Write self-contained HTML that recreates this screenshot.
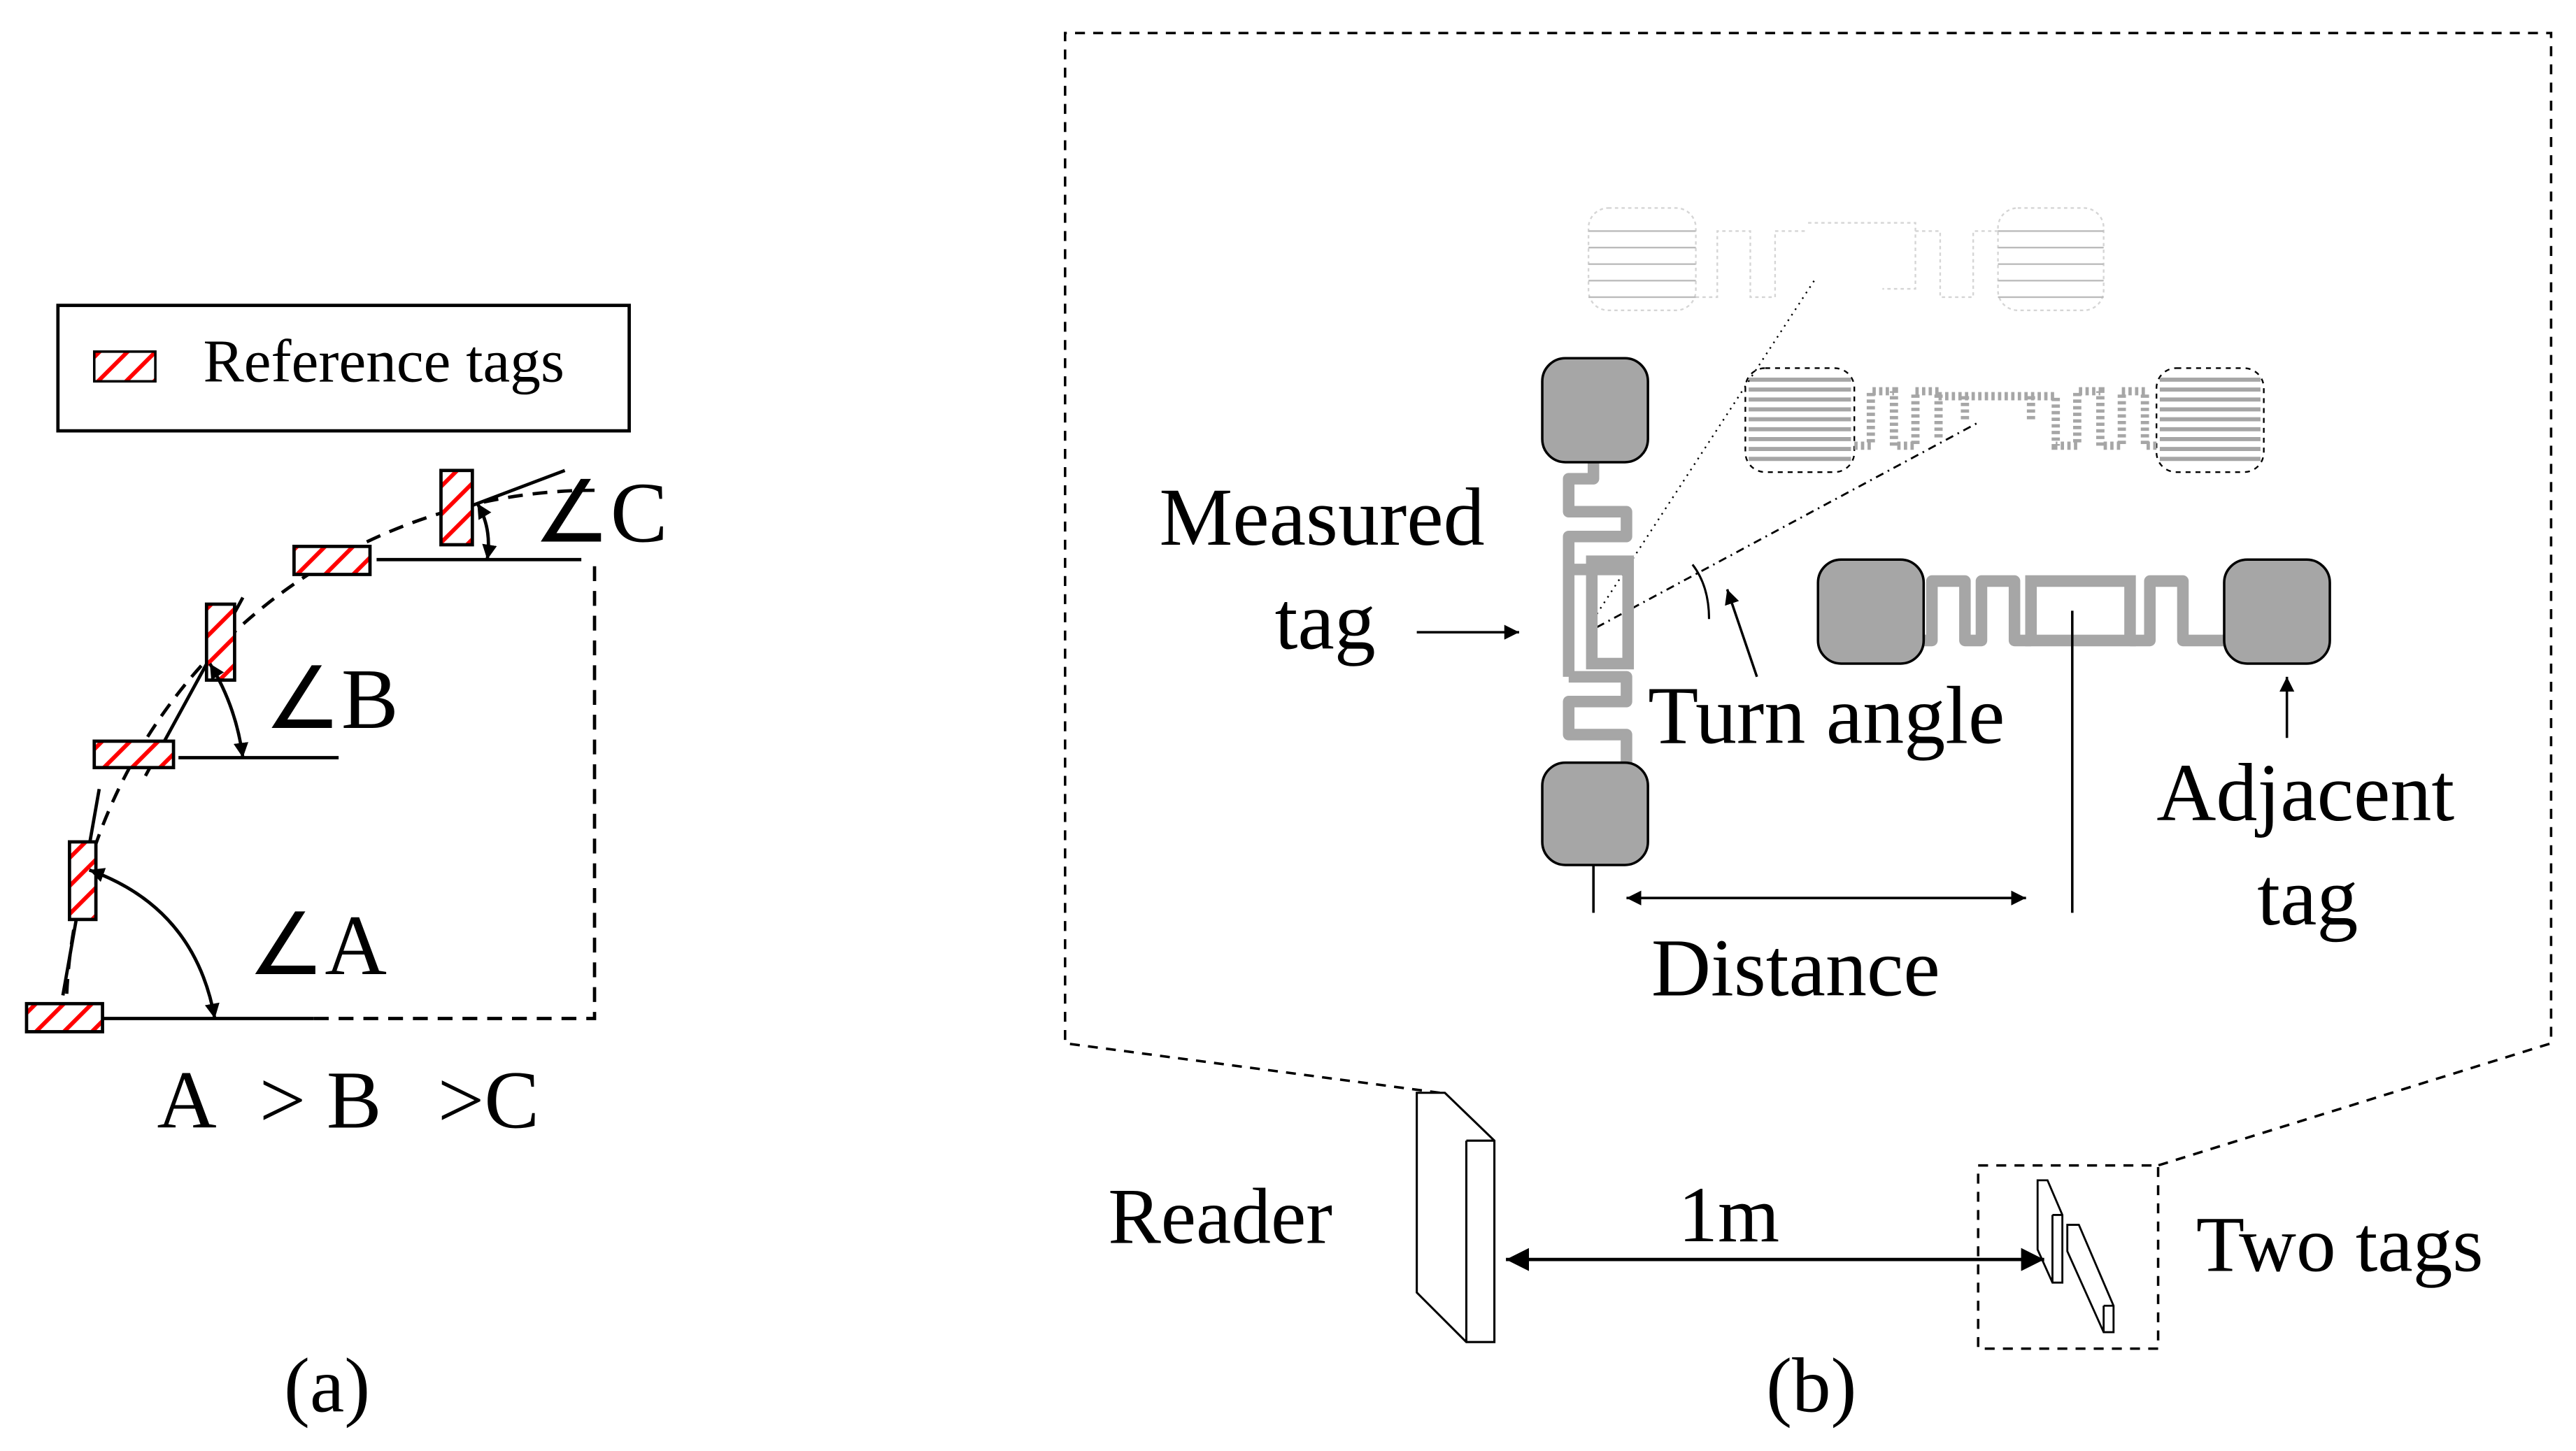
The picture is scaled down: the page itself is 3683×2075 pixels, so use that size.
<!DOCTYPE html>
<html><head><meta charset="utf-8"><style>html,body{margin:0;padding:0;background:#fff}svg{display:block}text{font-family:"Liberation Serif",serif;fill:#000}</style></head><body>
<svg width="3683" height="2075" viewBox="0 0 1560 879" xmlns="http://www.w3.org/2000/svg">
<defs>
<pattern id="h" patternUnits="userSpaceOnUse" width="12" height="12" patternTransform="rotate(45)">
<rect width="12" height="12" fill="#fff"/><rect x="0" y="0" width="2.5" height="12" fill="#f00"/></pattern>
<marker id="ar" viewBox="0 0 10 10" refX="10" refY="5" markerWidth="9" markerHeight="9" markerUnits="userSpaceOnUse" orient="auto-start-reverse"><path d="M0,0L10,5L0,10z" fill="#000"/></marker>
<marker id="ab" viewBox="0 0 10 10" refX="10" refY="5" markerWidth="14" markerHeight="14" markerUnits="userSpaceOnUse" orient="auto-start-reverse"><path d="M0,0L10,5L0,10z" fill="#000"/></marker>
</defs>
<!-- (a) -->
<rect x="35" y="185" width="346" height="76" fill="none" stroke="#000" stroke-width="2"/>
<rect x="57" y="213" width="37" height="18" fill="url(#h)" stroke="#000" stroke-width="1.5"/>
<text x="123" y="231" font-size="37">Reference tags</text>
<path d="M40,617 A320,320 0 0 1 360,297" fill="none" stroke="#000" stroke-width="2" stroke-dasharray="9,6"/>
<line x1="62" y1="617" x2="190" y2="617" stroke="#000" stroke-width="2"/>
<path d="M190,617 H360 V338" fill="none" stroke="#000" stroke-width="2" stroke-dasharray="9,6"/>
<line x1="108" y1="459" x2="205" y2="459" stroke="#000" stroke-width="2"/>
<line x1="228" y1="339" x2="352" y2="339" stroke="#000" stroke-width="2"/>
<line x1="38" y1="603" x2="60" y2="478" stroke="#000" stroke-width="2"/>
<line x1="88" y1="470" x2="147" y2="362" stroke="#000" stroke-width="2"/>
<line x1="268" y1="313" x2="342" y2="285" stroke="#000" stroke-width="2"/>
<rect x="16" y="608" width="46" height="17" fill="url(#h)" stroke="#000" stroke-width="2"/>
<rect x="42" y="510" width="16" height="47" fill="url(#h)" stroke="#000" stroke-width="2"/>
<rect x="57" y="449" width="48" height="16" fill="url(#h)" stroke="#000" stroke-width="2"/>
<rect x="125" y="366" width="17" height="46" fill="url(#h)" stroke="#000" stroke-width="2"/>
<rect x="178" y="331" width="46" height="17" fill="url(#h)" stroke="#000" stroke-width="2"/>
<rect x="267" y="285" width="19" height="45" fill="url(#h)" stroke="#000" stroke-width="2"/>
<path d="M54,527 Q118,550 130,617" fill="none" stroke="#000" stroke-width="2" marker-start="url(#ar)" marker-end="url(#ar)"/>
<path d="M127,402 Q143,428 147,459" fill="none" stroke="#000" stroke-width="2" marker-start="url(#ar)" marker-end="url(#ar)"/>
<path d="M289,305 Q298,320 295,339" fill="none" stroke="#000" stroke-width="2" marker-start="url(#ar)" marker-end="url(#ar)"/>
<text x="150" y="590" font-size="52">∠A</text>
<text x="160" y="441" font-size="52">∠B</text>
<text x="323" y="328" font-size="52">∠C</text>
<text x="95" y="683" font-size="50">A</text><text x="157" y="683" font-size="50">&gt; B</text><text x="265" y="683" font-size="50">&gt;C</text>
<text x="198" y="855" font-size="47" text-anchor="middle">(a)</text>
<!-- (b) -->
<path d="M872,662 L645,632 V20 H1545 V632 L1307,706" fill="none" stroke="#000" stroke-width="1.5" stroke-dasharray="6,5"/>
<rect x="1198" y="706" width="109" height="111" fill="none" stroke="#000" stroke-width="1.5" stroke-dasharray="6,5"/>
<path d="M858,662 L875,662 L905,691 V813 H888 L858,783 Z M888,691 H905 M888,691 V813" fill="#fff" stroke="#000" stroke-width="1.3"/>
<path d="M1234,715 L1240,715 L1249,736 V777 H1243 L1234,757 Z M1243,736 H1249 M1243,736 V777" fill="#fff" stroke="#000" stroke-width="1.2"/>
<path d="M1252,742 L1259,742 L1280,791 V807 H1274 L1252,758 Z M1274,791 H1280 M1274,791 V807" fill="#fff" stroke="#000" stroke-width="1.2"/>
<line x1="912" y1="763" x2="1238" y2="763" stroke="#000" stroke-width="2" marker-start="url(#ab)" marker-end="url(#ab)"/>
<text x="671" y="753" font-size="48">Reader</text>
<text x="1047" y="752" font-size="48" text-anchor="middle">1m</text>
<text x="1330" y="770" font-size="48">Two tags</text>
<text x="1097" y="855" font-size="47" text-anchor="middle">(b)</text>
<!-- faded top tag -->
<g opacity="0.35" stroke="#888" fill="none" stroke-width="1" stroke-dasharray="2,2">
<rect x="962" y="126" width="65" height="62" rx="12"/><rect x="1210" y="126" width="64" height="62" rx="12"/>
<path d="M1027,180 H1040 V140 H1060 V180 H1075 V140 H1095 M1095,135 H1160 V175 H1140 M1160,140 H1175 V180 H1195 V140 H1210"/>
</g>
<g stroke="#bbb" stroke-width="1">
<line x1="962" y1="140" x2="1027" y2="140"/><line x1="962" y1="150" x2="1027" y2="150"/><line x1="962" y1="160" x2="1027" y2="160"/><line x1="962" y1="170" x2="1027" y2="170"/><line x1="962" y1="180" x2="1027" y2="180"/>
<line x1="1210" y1="140" x2="1274" y2="140"/><line x1="1210" y1="150" x2="1274" y2="150"/><line x1="1210" y1="160" x2="1274" y2="160"/><line x1="1210" y1="170" x2="1274" y2="170"/><line x1="1210" y1="180" x2="1274" y2="180"/>
</g>
<!-- middle striped tag -->
<g>
<rect x="1057" y="223" width="66" height="63" rx="12" fill="#fff" stroke="#000" stroke-width="1" stroke-dasharray="3,3"/>
<rect x="1306" y="223" width="65" height="63" rx="12" fill="#fff" stroke="#000" stroke-width="1" stroke-dasharray="3,3"/>
<g stroke="#a6a6a6" stroke-width="2.5">
<path d="M1059,230H1121M1059,236H1121M1059,242H1121M1059,248H1121M1059,254H1121M1059,260H1121M1059,266H1121M1059,272H1121M1059,278H1121"/>
<path d="M1308,230H1369M1308,236H1369M1308,242H1369M1308,248H1369M1308,254H1369M1308,260H1369M1308,266H1369M1308,272H1369M1308,278H1369"/>
</g>
<path d="M1123,270 H1133 V237 H1147 V270 H1160 V237 H1174 V266 M1174,240 H1230 V255 M1190,240 V255 M1230,240 H1245 V270 H1258 V237 H1272 V270 H1285 V237 H1299 V270 H1306" fill="none" stroke="#a6a6a6" stroke-width="5" stroke-dasharray="2,2"/>
</g>
<line x1="967" y1="372" x2="1100" y2="168" stroke="#000" stroke-width="1" stroke-dasharray="1,3"/>
<line x1="967" y1="380" x2="1198" y2="256" stroke="#000" stroke-width="1.2" stroke-dasharray="5,3,1,3"/>
<!-- measured tag -->
<path d="M965,280 V290 H950 V310 H985 V325 H950 V345 H985 M950,410 H985 V425 H950 V445 H985 V462" fill="none" stroke="#a6a6a6" stroke-width="7" stroke-linejoin="round"/>
<rect x="964" y="340" width="22" height="62" fill="none" stroke="#a6a6a6" stroke-width="7"/>
<path d="M950,345 V410" fill="none" stroke="#a6a6a6" stroke-width="7"/>
<rect x="934" y="217" width="64" height="63" rx="14" fill="#a6a6a6" stroke="#000" stroke-width="1.5"/>
<rect x="934" y="462" width="64" height="62" rx="14" fill="#a6a6a6" stroke="#000" stroke-width="1.5"/>
<!-- adjacent tag -->
<path d="M1165,388 H1170 V352 H1190 V388 H1200 V352 H1220 V388 H1230 M1290,388 H1302 V352 H1322 V388 H1332 V388 H1347" fill="none" stroke="#a6a6a6" stroke-width="7" stroke-linejoin="round"/>
<path d="M1230,388 V352 H1290 V388 Z" fill="none" stroke="#a6a6a6" stroke-width="7"/>
<rect x="1101" y="339" width="64" height="63" rx="14" fill="#a6a6a6" stroke="#000" stroke-width="1.5"/>
<rect x="1347" y="339" width="64" height="63" rx="14" fill="#a6a6a6" stroke="#000" stroke-width="1.5"/>
<!-- connectors -->
<line x1="965" y1="524" x2="965" y2="553" stroke="#000" stroke-width="1.5"/>
<line x1="1255" y1="370" x2="1255" y2="553" stroke="#000" stroke-width="1.5"/>
<line x1="985" y1="544" x2="1227" y2="544" stroke="#000" stroke-width="1.5" marker-start="url(#ar)" marker-end="url(#ar)"/>
<path d="M1025,342 Q1035,355 1035,375" fill="none" stroke="#000" stroke-width="1.3"/>
<line x1="1064" y1="410" x2="1046" y2="357" stroke="#000" stroke-width="1.5" marker-end="url(#ar)"/>
<line x1="858" y1="383" x2="920" y2="383" stroke="#000" stroke-width="1.5" marker-end="url(#ar)"/>
<line x1="1385" y1="447" x2="1385" y2="410" stroke="#000" stroke-width="1.5" marker-end="url(#ar)"/>
<text x="702" y="330" font-size="50">Measured</text>
<text x="772" y="393" font-size="50">tag</text>
<text x="998" y="450" font-size="50">Turn angle</text>
<text x="1000" y="603" font-size="50">Distance</text>
<text x="1306" y="497" font-size="50">Adjacent</text>
<text x="1367" y="560" font-size="50">tag</text>
</svg>
</body></html>
